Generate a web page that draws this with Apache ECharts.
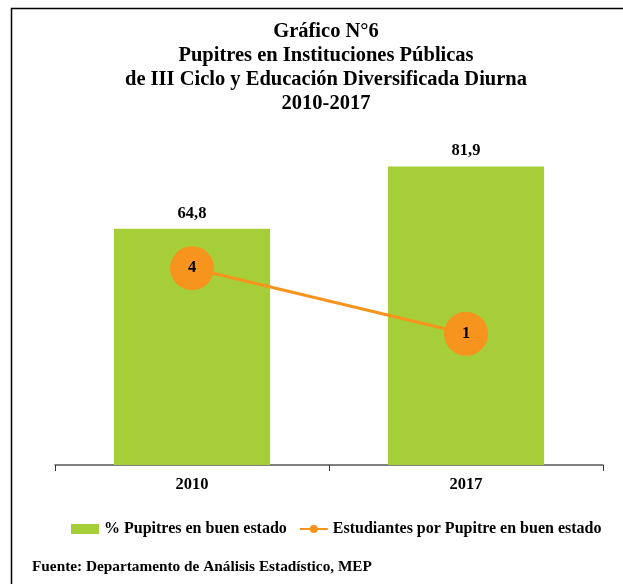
<!DOCTYPE html>
<html>
<head>
<meta charset="utf-8">
<script src="https://cdn.jsdelivr.net/npm/echarts@6/dist/echarts.min.js"></script>
<style>
html,body{margin:0;padding:0;background:#fff;}
#c{width:623px;height:584px;}
</style>
</head>
<body>
<div id="c"></div>
<script>
const titleLines = ['Gráfico N°6','Pupitres en Instituciones Públicas','de III Ciclo y Educación Diversificada Diurna','2010-2017'];
const categories = ['2010','2017'];
const pctGood = [64.8, 81.9];
const studentsPerDesk = [4, 1];
const seriesNames = ['% Pupitres en buen estado','Estudiantes por Pupitre en buen estado'];
const sourceText = 'Fuente: Departamento de Análisis Estadístico, MEP';

const FONT = '"Liberation Serif", "Times New Roman", serif';
const chart = echarts.init(document.getElementById('c'));
const graphics = [
  {type:'rect', shape:{x:11.5, y:8.5, width:700, height:700}, style:{fill:'none', stroke:'#000', lineWidth:1.5}, silent:true}
];
titleLines.forEach((t,i)=>{
  graphics.push({type:'text', x:326, y:32 + i*24, style:{text:t, align:'center', verticalAlign:'middle', fontFamily:FONT, fontWeight:'bold', fontSize:20.5, fill:'#000'}});
});
graphics.push({type:'text', x:32, y:567, style:{text:sourceText, align:'left', verticalAlign:'middle', fontFamily:FONT, fontWeight:'bold', fontSize:15.3, fill:'#000'}});

chart.setOption({
  animation:false,
  backgroundColor:'#fff',
  graphic: graphics,
  grid:{left:55, right:20, top:137, bottom:119, containLabel:false},
  legend:{
    left:66, top:516, itemWidth:28, itemHeight:10, itemGap:12,
    textStyle:{fontFamily:FONT, fontWeight:'bold', fontSize:16, color:'#000'},
    data:[{name:seriesNames[0], icon:'rect'},{name:seriesNames[1]}]
  },
  xAxis:{
    type:'category', data:categories,
    axisLine:{lineStyle:{color:'#555', width:1.5}},
    axisTick:{show:true, alignWithLabel:false, length:6, lineStyle:{color:'#333'}},
    axisLabel:{fontFamily:FONT, fontWeight:'bold', fontSize:16.5, color:'#000', margin:11}
  },
  yAxis:[
    {type:'value', min:0, max:90, show:false},
    {type:'value', min:-5, max:10, show:false}
  ],
  series:[
    {
      name:seriesNames[0], type:'bar', data:pctGood, barWidth:'57%', yAxisIndex:0,
      itemStyle:{color:'#a6ce39'},
      label:{show:true, position:'top', distance:7, formatter:p=>String(p.value).replace('.',','), fontFamily:FONT, fontWeight:'bold', fontSize:16.5, color:'#000'}
    },
    {
      name:seriesNames[1], type:'line', data:studentsPerDesk, yAxisIndex:1,
      symbol:'circle', symbolSize:44,
      lineStyle:{color:'#f7941d', width:3},
      itemStyle:{color:'#f7941d'},
      label:{show:true, position:'inside', fontFamily:FONT, fontWeight:'bold', fontSize:16.5, color:'#000'},
      z:5
    }
  ]
});
</script>
</body>
</html>
